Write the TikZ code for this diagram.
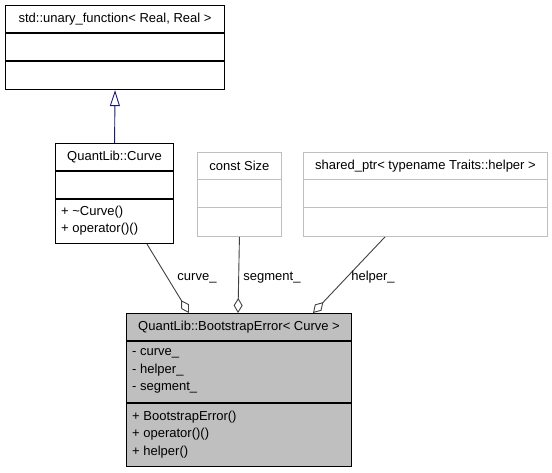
\documentclass[tikz,border=0pt]{standalone}
\usepackage{fontspec}
\setmainfont{Liberation Sans}
\usetikzlibrary{arrows.meta,calc}
\definecolor{boxgray}{HTML}{BFBFBF}
\definecolor{faint}{HTML}{BFBFBF}
\definecolor{linegray}{HTML}{404040}
\definecolor{navy}{HTML}{191970}
\begin{document}
\begin{tikzpicture}[x=1pt,y=-1pt,
  cls/.style={draw=black,line width=1.1pt,fill=white,inner sep=0pt,anchor=north west},
  ext/.style={draw=faint,line width=0.9pt,fill=white,inner sep=0pt,anchor=north west},
  txt/.style={inner sep=0pt,font=\fontsize{13}{15}\selectfont},
  mem/.style={txt,anchor=west},
  agg/.style={draw=linegray,line width=0.9pt,-{Diamond[open,length=15pt,width=9pt]}},
  inh/.style={draw=navy,line width=0.9pt,-{Triangle[open,length=16pt,width=10pt]}},
  lbl/.style={txt}]
\useasboundingbox (0,0) rectangle (552,472);

% std::unary_function
\node[cls,minimum width=219pt,minimum height=84pt] (uf) at (5,5) {};
\draw[line width=1.1pt] ($(uf.north west)+(0,28)$) -- ($(uf.north east)+(0,28)$);
\draw[line width=1.1pt] ($(uf.north west)+(0,56)$) -- ($(uf.north east)+(0,56)$);
\node[txt] (ufname) at ($(uf.north)+(0,14)$) {std::unary\_function< Real, Real >};

% QuantLib::Curve
\node[cls,minimum width=118pt,minimum height=100pt] (curve) at (55,143) {};
\draw[line width=1.1pt] ($(curve.north west)+(0,28)$) -- ($(curve.north east)+(0,28)$);
\draw[line width=1.1pt] ($(curve.north west)+(0,56)$) -- ($(curve.north east)+(0,56)$);
\node[txt] (curvename) at ($(curve.north)+(0,14)$) {QuantLib::Curve};
\node[mem] (cm1) at ($(curve.north west)+(6,69)$) {+ \textasciitilde Curve()};
\node[mem] (cm2) at ($(curve.north west)+(6,86.5)$) {+ operator()()};

% const Size
\node[ext,minimum width=84pt,minimum height=84pt] (size) at (197,152) {};
\draw[draw=faint,line width=0.9pt] ($(size.north west)+(0,27.5)$) -- ($(size.north east)+(0,27.5)$);
\draw[draw=faint,line width=0.9pt] ($(size.north west)+(0,55.5)$) -- ($(size.north east)+(0,55.5)$);
\node[txt] (sizename) at ($(size.north)+(0,14)$) {const Size};

% shared_ptr
\node[ext,minimum width=244pt,minimum height=84pt] (shared) at (303,152) {};
\draw[draw=faint,line width=0.9pt] ($(shared.north west)+(0,27.5)$) -- ($(shared.north east)+(0,27.5)$);
\draw[draw=faint,line width=0.9pt] ($(shared.north west)+(0,55.5)$) -- ($(shared.north east)+(0,55.5)$);
\node[txt] (sharedname) at ($(shared.north)+(0,14)$) {shared\_ptr< typename Traits::helper >};

% QuantLib::BootstrapError
\node[cls,fill=boxgray,minimum width=225pt,minimum height=153pt] (bse) at (126,313) {};
\draw[line width=1.1pt] ($(bse.north west)+(0,28)$) -- ($(bse.north east)+(0,28)$);
\draw[line width=1.1pt] ($(bse.north west)+(0,90)$) -- ($(bse.north east)+(0,90)$);
\node[txt] (bsename) at ($(bse.north)+(0,14)$) {QuantLib::BootstrapError< Curve >};
\node[mem] (ba1) at ($(bse.north west)+(6,40)$) {- curve\_};
\node[mem] (ba2) at ($(bse.north west)+(6,57.5)$) {- helper\_};
\node[mem] (ba3) at ($(bse.north west)+(6,75)$) {- segment\_};
\node[mem] (bm1) at ($(bse.north west)+(6,104)$) {+ BootstrapError()};
\node[mem] (bm2) at ($(bse.north west)+(6,121.5)$) {+ operator()()};
\node[mem] (bm3) at ($(bse.north west)+(6,139)$) {+ helper()};

% connector end points
\coordinate (curveout) at ($(curve.south west)+(92,0)$);
\coordinate (bsecurve) at ($(bse.north west)+(63,0)$);
\coordinate (sizeout) at (size.south);
\coordinate (bsesize) at ($(bse.north west)+(112,0)$);
\coordinate (sharedout) at ($(shared.south west)+(82,0)$);
\coordinate (bseshared) at ($(bse.north west)+(187,0)$);

% connectors
\draw[inh] (curve.north) -- (uf.south);
\draw[agg] (curveout) -- (bsecurve);
\draw[agg] (sizeout) -- (bsesize);
\draw[agg] (sharedout) -- (bseshared);

% labels
\node[lbl] (lcurve) at (197,278) {curve\_};
\node[lbl] (lsize) at (272,278) {segment\_};
\node[lbl] (lshared) at (373,277) {helper\_};
\end{tikzpicture}
\end{document}
